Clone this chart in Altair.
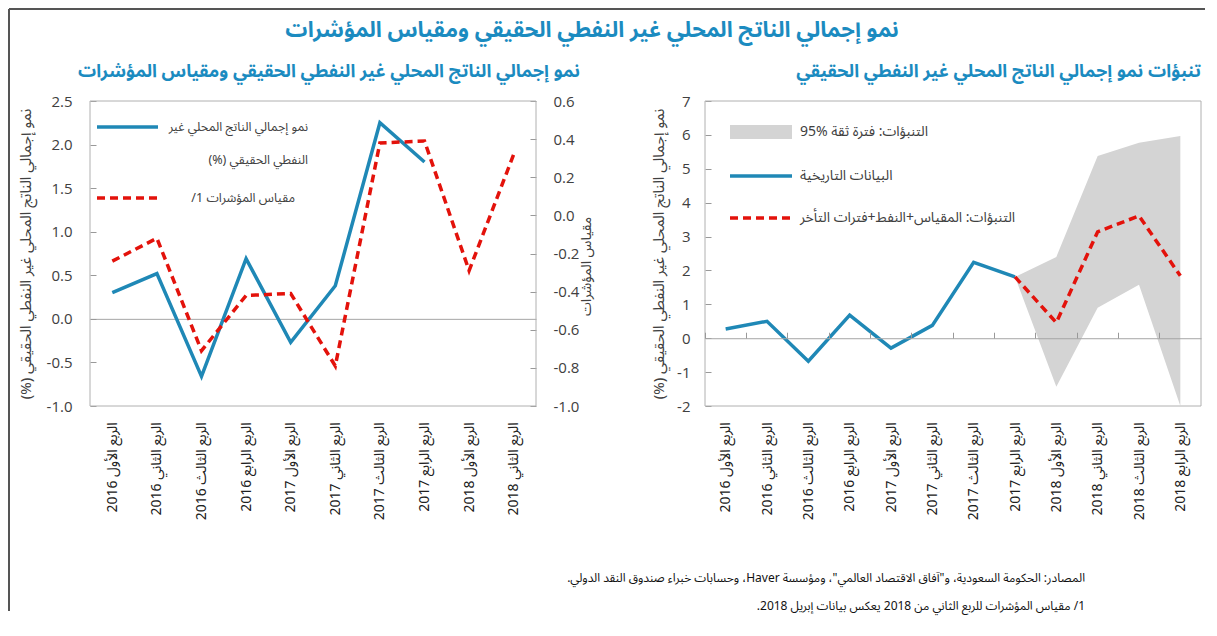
import altair as alt
import pandas as pd

# ---------------- data ----------------
quarters_left = [
    "الربع الأول 2016", "الربع الثاني 2016", "الربع الثالث 2016", "الربع الرابع 2016",
    "الربع الأول 2017", "الربع الثاني 2017", "الربع الثالث 2017", "الربع الرابع 2017",
    "الربع الأول 2018", "الربع الثاني 2018",
]
quarters_right = quarters_left + ["الربع الثالث 2018", "الربع الرابع 2018"]

# left panel
gdp_growth_left = [0.30, 0.52, -0.66, 0.69, -0.27, 0.38, 2.25, 1.80]          # Q1-2016 .. Q4-2017
indicator_index = [-0.24, -0.12, -0.71, -0.42, -0.41, -0.79, 0.38, 0.39, -0.29, 0.32]

# right panel
hist_growth = [0.27, 0.50, -0.68, 0.68, -0.29, 0.38, 2.24, 1.81]              # Q1-2016 .. Q4-2017
forecast_quarters = quarters_right[7:]                                       # Q4-2017 .. Q4-2018
forecast_growth = [1.81, 0.46, 3.14, 3.61, 1.84]
ci_lower = [1.81, -1.43, 0.90, 1.58, -2.00]
ci_upper = [1.81, 2.40, 5.38, 5.77, 5.97]

gdp_ticks = [-1.0, -0.5, 0.0, 0.5, 1.0, 1.5, 2.0, 2.5]
index_ticks = [-1.0, -0.8, -0.6, -0.4, -0.2, 0.0, 0.2, 0.4, 0.6]
forecast_ticks = [-2, -1, 0, 1, 2, 3, 4, 5, 6, 7]

main_title = "نمو إجمالي الناتج المحلي غير النفطي الحقيقي ومقياس المؤشرات"
left_title = "نمو إجمالي الناتج المحلي غير النفطي الحقيقي ومقياس المؤشرات"
right_title = "تنبؤات نمو إجمالي الناتج المحلي غير النفطي الحقيقي"
y_title = "نمو إجمالي الناتج المحلي غير النفطي الحقيقي (%)"
index_title = "مقياس المؤشرات"
leg_gdp_1 = "نمو إجمالي الناتج المحلي غير"
leg_gdp_2 = "النفطي الحقيقي (%)"
leg_index = "مقياس المؤشرات 1/"
leg_ci = "التنبؤات: فترة ثقة %95"
leg_hist = "البيانات التاريخية"
leg_fc = "التنبؤات: المقياس+النفط+فترات التأخر"
note_1 = "المصادر: الحكومة السعودية، و\"آفاق الاقتصاد العالمي\"، ومؤسسة Haver، وحسابات خبراء صندوق النقد الدولي."
note_2 = "1/  مقياس المؤشرات للربع الثاني من 2018 يعكس بيانات إبريل 2018."

# ---------------- styling ----------------
BLUE = "#1f88b6"
RED = "#e3120b"
TBLUE = "#1b8bc0"
GRAY = "#d4d4d4"
FRAME = "#b0b0b0"
TXT = "#404040"
AR = "Noto Sans Arabic, DejaVu Sans"
NUM = "Open Sans"

H = 305
W_L = 446
X_R0, X_R1 = 615, 1111


def rtl(s):
    return "\u202b" + s + "\u202c"


fmt1 = "replace(format(datum.value, '.1f'), '\u2212', '-')"
fmt0 = "replace(format(datum.value, 'd'), '\u2212', '-')"


def pscale(domain, r0, r1):
    return alt.Scale(type="point", domain=domain, range=[r0, r1], padding=0.5)


def bscale(domain, r0, r1):
    return alt.Scale(type="band", domain=domain, range=[r0, r1], paddingInner=0, paddingOuter=0)


def x_label_axis():
    return alt.Axis(orient="bottom", labelAngle=270, domain=False, ticks=False, grid=False,
                    labelPadding=16, labelFont=AR, labelFontSize=14, labelColor="#202020",
                    labelLimit=200)


one = pd.DataFrame({"k": [0]})


def text(s, x, y, size, color, align="left", weight="normal"):
    return alt.Chart(one).mark_text(text=s, align=align, baseline="middle", fontSize=size,
                                    color=color, fontWeight=weight, font=AR).encode(
        x=alt.value(x), y=alt.value(y))


def hrule(x0, x1, y, color, width, dash=None):
    kw = dict(color=color, strokeWidth=width)
    if dash:
        kw["strokeDash"] = dash
    return alt.Chart(one).mark_rule(**kw).encode(x=alt.value(x0), x2=alt.value(x1), y=alt.value(y))


def vrule(x, y0, y1, color, width):
    return alt.Chart(one).mark_rule(color=color, strokeWidth=width).encode(
        x=alt.value(x), y=alt.value(y0), y2=alt.value(y1))


def frame(x0, x1):
    return alt.Chart(one).mark_rect(fillOpacity=0, stroke=FRAME, strokeWidth=1).encode(
        x=alt.value(x0), x2=alt.value(x1), y=alt.value(0), y2=alt.value(H))


# ---------------- left panel ----------------
df_gdp = pd.DataFrame({"q": quarters_left[:len(gdp_growth_left)], "v": gdp_growth_left})
df_idx = pd.DataFrame({"q": quarters_left, "v": indicator_index})

gdp_line = alt.Chart(df_gdp).mark_line(color=BLUE, strokeWidth=3.5).encode(
    x=alt.X("q:N", scale=pscale(quarters_left, 0, W_L), axis=x_label_axis(), title=None),
    y=alt.Y("v:Q", scale=alt.Scale(domain=[-1, 2.5], nice=False, zero=False),
            title=rtl(y_title),
            axis=alt.Axis(orient="left", values=gdp_ticks, labelExpr=fmt1, offset=-6, tickSize=6,
                          tickColor="#999999", domain=False, grid=False, labelPadding=18,
                          labelFont=NUM, labelFontSize=15, labelColor=TXT,
                          titlePadding=13, titleFont=AR, titleFontSize=15,
                          titleFontWeight="normal", titleColor=TXT)),
)

idx_line = alt.Chart(df_idx).mark_line(color=RED, strokeWidth=3.5, strokeDash=[8, 5]).encode(
    x=alt.X("q:N", scale=pscale(quarters_left, 0, W_L), title=None,
            axis=alt.Axis(orient="top", offset=-(H * 2.5 / 3.5), labels=False, ticks=False,
                          domain=True, domainColor="#a6a6a6", grid=False)),
    y=alt.Y("v:Q", scale=alt.Scale(domain=[-1, 0.6], nice=False, zero=False),
            title=index_title,
            axis=alt.Axis(orient="right", values=index_ticks, labelExpr=fmt1,
                          offset=-(X_R1 - W_L) - 6, tickSize=6, tickColor="#999999",
                          domain=False, grid=False, labelPadding=17,
                          labelFont=NUM, labelFontSize=15, labelColor=TXT,
                          titleAngle=270, titlePadding=15, titleY=165, titleFont=AR,
                          titleFontSize=14, titleFontWeight="normal", titleColor=TXT)),
)

# ---------------- right panel ----------------
df_hist = pd.DataFrame({"q": quarters_right[:len(hist_growth)], "v": hist_growth})
df_fc = pd.DataFrame({"q": forecast_quarters, "v": forecast_growth})
df_ci = pd.DataFrame({"q": forecast_quarters, "lo": ci_lower, "hi": ci_upper})
yR = lambda: alt.Scale(domain=[-2, 7], nice=False, zero=False)

ci_band = alt.Chart(df_ci).mark_area(color=GRAY, opacity=1).encode(
    x=alt.X("q:N", scale=pscale(quarters_right, X_R0, X_R1), axis=None),
    y=alt.Y("lo:Q", scale=yR(), axis=None),
    y2="hi:Q",
)

tick_axis = alt.Chart(df_hist).mark_point(opacity=0).encode(
    x=alt.X("q:N", scale=bscale(quarters_right, X_R0, X_R1), title=None,
            axis=alt.Axis(orient="top", offset=-(H * 7 / 9), bandPosition=0, labels=False,
                          ticks=True, tickSize=6, tickColor="#999999", domain=True,
                          domainColor="#a6a6a6", grid=False, zindex=1)),
)

hist_line = alt.Chart(df_hist).mark_line(color=BLUE, strokeWidth=3.5).encode(
    x=alt.X("q:N", scale=pscale(quarters_right, X_R0, X_R1), axis=x_label_axis(), title=None),
    y=alt.Y("v:Q", scale=yR(), title=rtl(y_title),
            axis=alt.Axis(orient="left", values=forecast_ticks, labelExpr=fmt0,
                          offset=-(X_R0 + 6), tickSize=6, tickColor="#999999", domain=False,
                          grid=False, labelPadding=15, labelFont=NUM, labelFontSize=15,
                          labelColor=TXT, titlePadding=10, titleFont=AR, titleFontSize=15,
                          titleFontWeight="normal", titleColor=TXT)),
)

fc_line = alt.Chart(df_fc).mark_line(color=RED, strokeWidth=3.5, strokeDash=[8, 5]).encode(
    x=alt.X("q:N", scale=pscale(quarters_right, X_R0, X_R1), axis=None),
    y=alt.Y("v:Q", scale=yR(), axis=None),
)

# ---------------- legends ----------------
legend_left = [
    hrule(7, 68, 26, BLUE, 3.5),
    text(rtl(leg_gdp_1), 218, 26, 12.5, TXT, align="right"),
    text(rtl(leg_gdp_2), 218, 59, 12.5, TXT, align="right"),
    hrule(7, 68, 97, RED, 3.5, dash=[8, 5]),
    text(rtl(leg_index), 205, 97, 12.5, TXT, align="right"),
]

legend_right = [
    alt.Chart(one).mark_rect(color=GRAY).encode(
        x=alt.value(X_R0 + 25), x2=alt.value(X_R0 + 87), y=alt.value(24), y2=alt.value(38)),
    text(rtl(leg_ci), X_R0 + 95, 31, 14, TXT),
    hrule(X_R0 + 25, X_R0 + 87, 75, BLUE, 3.5),
    text(rtl(leg_hist), X_R0 + 95, 75, 14, TXT),
    hrule(X_R0 + 25, X_R0 + 87, 117, RED, 3.5, dash=[8, 5]),
    text(rtl(leg_fc), X_R0 + 95, 117, 14, TXT),
]

# ---------------- titles, notes, outer frame ----------------
decor = [
    hrule(-81, 1115, -92, "#555555", 2),
    vrule(-81, -92, 510, "#555555", 2),
    text(rtl(main_title), 502, -71, 22, TBLUE, align="center", weight="bold"),
    text(rtl(left_title), 490, -29, 18, TBLUE, align="right", weight="bold"),
    text(rtl(right_title), X_R1, -29, 18, TBLUE, align="right", weight="bold"),
    text(rtl(note_1), 995, 477, 12, "#111111", align="right"),
    text(rtl(note_2), 995, 505, 12, "#111111", align="right"),
]

chart = alt.layer(
    frame(0, W_L), frame(X_R0, X_R1),
    ci_band, tick_axis,
    gdp_line, idx_line, hist_line, fc_line,
    *legend_left, *legend_right, *decor,
).resolve_scale(
    x="independent", y="independent"
).resolve_axis(
    x="independent", y="independent"
).properties(
    width=X_R1, height=H, padding={"left": 0, "top": 0, "right": 0, "bottom": 8}
).configure_view(stroke=None)

chart.save("out.html", embed_options={"renderer": "svg", "actions": False})
